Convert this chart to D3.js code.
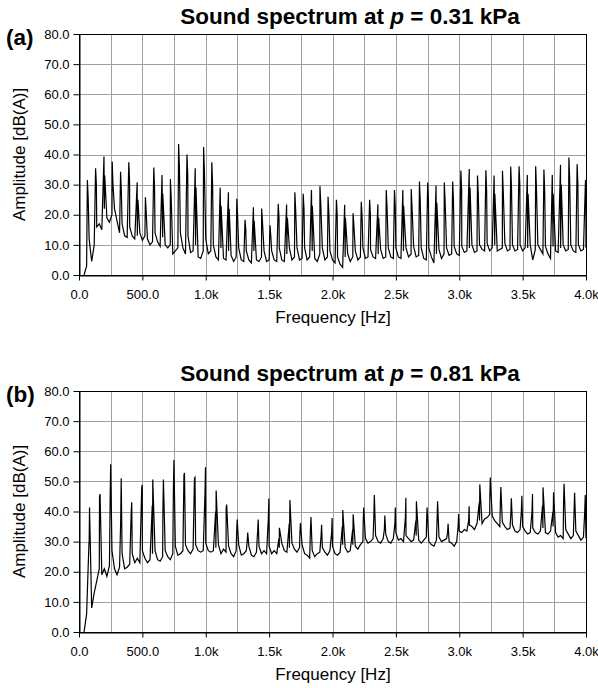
<!DOCTYPE html>
<html>
<head>
<meta charset="utf-8">
<script src="https://cdn.jsdelivr.net/npm/d3@7"></script>
<style>
    body { margin: 0; background: #fff; }
    text { font-family: "Liberation Sans", Arial, sans-serif; fill: #000; }
</style>
</head>
<body>
<div id="chart"></div>
<script>
// axis ticks
const xTickValues = [0, 500, 1000, 1500, 2000, 2500, 3000, 3500, 4000];
const xTickLabels = ['0.0', '500.0', '1.0k', '1.5k', '2.0k', '2.5k', '3.0k', '3.5k', '4.0k'];
const xGridValues = [0, 250, 500, 750, 1000, 1250, 1500, 1750, 2000, 2250, 2500, 2750, 3000, 3250, 3500, 3750, 4000];
const yTickValues = [0, 10, 20, 30, 40, 50, 60, 70, 80];
const yTickLabels = ['0.0', '10.0', '20.0', '30.0', '40.0', '50.0', '60.0', '70.0', '80.0'];

const panelLabels = ['(a)', '(b)'];
const pressures = ['0.31', '0.81'];

// harmonic peaks, panel (a)
const peakHzA = [66, 131, 197, 262, 328, 393, 459, 524, 590, 655, 721, 786, 852, 917, 983, 1048, 1114, 1179, 1245, 1310,
    1376, 1441, 1507, 1572, 1638, 1703, 1769, 1834, 1901, 1965, 2031, 2096, 2162, 2227, 2293, 2358, 2424, 2489, 2555, 2621,
    2686, 2751, 2817, 2882, 2948, 3013, 3079, 3144, 3210, 3275, 3341, 3406, 3472, 3537, 3603, 3668, 3734, 3799, 3865, 3930, 3996];
const peakDbA = [31.5, 35.4, 39.3, 37.7, 34.3, 37.4, 30.8, 25.8, 35.7, 33.2,
    31.9, 43.5, 40.0, 35.4, 42.5, 37.4, 29.0, 27.5, 25.3, 18.3,
    22.5, 22.1, 16.5, 23.6, 23.4, 27.5, 27.0, 28.2, 29.5, 26.0,
    25.0, 23.3, 20.5, 24.3, 25.0, 23.5, 28.2, 28.2, 28.2, 28.5,
    31.0, 30.7, 29.7, 30.7, 31.0, 34.7, 35.2, 33.0, 34.8, 33.0,
    34.6, 36.0, 36.1, 33.2, 36.1, 35.0, 33.2, 36.6, 39.0, 36.8, 31.5];
// second line just above each peak
const sideHzA = [72, 137, 203, 268, 334, 399, 465, 530, 596, 661, 727, 792, 858, 923, 989, 1054, 1121, 1185, 1251, 1316,
    1382, 1447, 1513, 1578, 1644, 1709, 1775, 1841, 1907, 1971, 2037, 2102, 2168, 2233, 2299, 2364, 2430, 2495, 2561, 2627,
    2692, 2757, 2823, 2888, 2954, 3019, 3085, 3150, 3216, 3281, 3347, 3412, 3478, 3543, 3609, 3674, 3741, 3805, 3871, 3936, 3999];
const sideDbA = [26, 30, 33, 30, 28, 31, 25, 21, 29, 27,
    26, 36, 33, 29, 35, 30, 23, 22, 20, 15,
    18, 18, 13, 19, 19, 22, 22, 23, 24, 21,
    20, 19, 17, 20, 20, 19, 23, 23, 23, 23,
    25, 25, 24, 25, 25, 28, 29, 27, 28, 27,
    28, 29, 30, 27, 29, 28, 27, 30, 32, 30, 26];

// noise floor, panel (a): 40 Hz to 4000 Hz, one reading every 20 Hz
const floorDbA = [
    0, 3, 12, 4.5, 10, 16, 17, 15, 22, 19, 17.5, 20, 22, 18, 14, 17, 13, 12.5, 16, 13, 12, 13, 14, 11.5, 13,
    12, 10, 11, 14, 11, 9.5, 12.5, 10, 9, 10, 7, 8, 9, 14, 9, 7, 13, 7.5, 8, 10, 6, 5.5, 8, 12, 7,
    8, 10, 6, 5, 9, 5.5, 5, 8, 6.5, 4.5, 6, 9, 5, 4.5, 8, 5, 4, 8, 5, 4.5, 6, 8, 4.5, 5, 8,
    5, 4.5, 9, 5, 4.5, 7, 9, 5, 6, 9, 5, 5.5, 9, 5, 6, 8, 5.5, 4.5, 7, 9, 5, 6, 8, 5, 4,
    6, 3.5, 2.5, 6, 7, 4.5, 6, 8, 5, 6, 9, 5.5, 6, 8.5, 6, 5.5, 7, 8.5, 5.5, 6, 9, 6, 5.5, 9, 6,
    5.5, 8, 9, 6, 7, 9.5, 6, 6.5, 9, 5.5, 5, 9, 6, 4, 7, 8.5, 5.5, 7, 9, 6.5, 7, 9.5, 7, 6.5, 9.5,
    7.5, 8, 9, 10, 7.5, 8, 10, 8.5, 8, 10.5, 8, 9, 10, 8, 8.5, 9, 10.5, 8, 8.5, 10, 8, 8.5, 10, 8, 9,
    9, 10, 5, 8.5, 10, 8.5, 7, 9.5, 7, 5.5, 9.5, 8, 7.5, 9, 10, 8, 8.5, 10, 8, 7.5, 10, 8, 8.5, 9
];

// harmonic peaks, panel (b)
const peakHzB = [83, 166, 250, 333, 416, 499, 582, 666, 749, 832, 915, 998, 1082, 1165, 1248, 1331, 1414, 1498, 1581, 1664,
    1747, 1830, 1914, 1997, 2081, 2163, 2246, 2330, 2413, 2496, 2579, 2662, 2746, 2829, 2912, 2995, 3078, 3162, 3245, 3328,
    3411, 3494, 3578, 3661, 3744, 3827, 3910, 3994];
const peakDbB = [41.3, 45.8, 55.7, 51.0, 43.1, 48.8, 50.6, 50.6, 57.1, 52.8,
    51.3, 54.7, 47.0, 42.3, 37.3, 33.0, 37.3, 44.3, 34.6, 43.8,
    36.2, 38.2, 35.6, 37.8, 40.5, 39.1, 41.3, 45.5, 38.7, 41.3,
    44.6, 43.4, 41.3, 43.4, 35.9, 39.2, 41.7, 49.0, 51.3, 48.1,
    44.4, 45.2, 45.8, 48.0, 46.4, 49.2, 46.2, 45.5];
// second line just below each peak
const sideHzB = [79, 162, 246, 329, 412, 495, 578, 662, 745, 828, 911, 994, 1078, 1161, 1244, 1327, 1410, 1494, 1577, 1659,
    1743, 1826, 1910, 1993, 2077, 2159, 2242, 2326, 2409, 2492, 2575, 2658, 2742, 2825, 2908, 2991, 3074, 3158, 3241, 3324,
    3407, 3490, 3574, 3657, 3739, 3823, 3906, 3990];
const sideDbB = [30, 45, 45, 37, 40, 48, 42, 40, 48, 52,
    51, 46, 40, 41, 33, 30, 34, 38, 31, 36,
    33, 34, 32, 33, 35, 34, 36, 38, 34, 36,
    38, 37, 36, 37, 33, 35, 37, 43, 44, 42,
    39, 40, 40, 42, 40, 43, 40, 40];

// noise floor, panel (b): 40 Hz to 4000 Hz, one reading every 20 Hz
const floorDbB = [
    0, 6, 29, 8, 13, 17, 21, 19, 21, 18.5, 22, 27, 21, 19, 21.5, 26, 21, 21.5, 22.5, 26, 23, 24.5, 23, 27, 24.5,
    23, 24, 26, 27, 24, 23.5, 25, 27, 25, 24, 26, 28.5, 25.5, 26, 27, 29, 27, 26, 27.5, 29, 27, 26.5, 27, 29.5, 27,
    26.5, 27, 28, 29, 26, 27.5, 26.5, 28.5, 26, 25, 27, 29, 25.5, 26, 27, 28.5, 25.5, 25, 26.5, 28.5, 26, 27, 26, 28.5, 26,
    27, 26, 28, 29.5, 27, 26.5, 28, 29.5, 27.5, 26.5, 28, 29, 26, 25.5, 24.5, 27, 25, 26, 26.5, 28, 26.5, 25.5, 27, 28.5, 26,
    25.5, 26.5, 29, 28, 26.5, 27, 29, 28.5, 27.5, 29, 30, 31, 29.5, 30, 31, 32, 30, 29.5, 31, 32.5, 30, 29.5, 31, 33, 30.5,
    31, 30, 32, 31, 30, 30.5, 32, 30.5, 29.5, 30.5, 31.5, 30, 29, 28.5, 30.5, 31.5, 30, 30.5, 31, 30, 29.5, 28.5, 30, 33.5, 33,
    34, 33.5, 35.5, 35, 34, 36, 37, 36, 37.5, 38, 39, 38.5, 37, 36, 35, 36.5, 35, 34, 34.5, 35.5, 33.5, 33, 34, 35, 33.5,
    32.5, 33, 34.5, 33, 32.5, 33.5, 34.5, 33, 32.5, 33.5, 35, 33, 31.5, 32, 31, 34, 32.5, 31, 32, 33.5, 32, 30.5, 31.5, 31
];
const floorStartHz = 40;
const floorStepHz = 20;

const panels = [
    { label: panelLabels[0], pressure: pressures[0], peakHz: peakHzA, peakDb: peakDbA, sideHz: sideHzA, sideDb: sideDbA, floorDb: floorDbA },
    { label: panelLabels[1], pressure: pressures[1], peakHz: peakHzB, peakDb: peakDbB, sideHz: sideHzB, sideDb: sideDbB, floorDb: floorDbB }
];

const width = 598, height = 688;
const plotLeft = 79, plotRight = 586, plotHeight = 241;
const panelTops = [34, 391];

const svg = d3.select('#chart').append('svg')
    .attr('width', width)
    .attr('height', height);

const x = d3.scaleLinear().domain([0, 4000]).range([plotLeft, plotRight]);

function spectrumPoints(p) {
    var pts = p.floorDb.map(function(v, i) { return { hz: floorStartHz + i * floorStepHz, db: v }; });
    p.peakHz.forEach(function(hz, i) { pts.push({ hz: hz, db: p.peakDb[i] }); });
    p.sideHz.forEach(function(hz, i) { pts.push({ hz: hz, db: p.sideDb[i] }); });
    pts.sort(function(a, b) { return a.hz - b.hz; });
    return pts;
}

panels.forEach(function(p, k) {
    var top = panelTops[k];
    var bottom = top + plotHeight;
    var y = d3.scaleLinear().domain([0, 80]).range([bottom, top]);
    var g = svg.append('g');

    // grid
    g.append('g').selectAll('line')
        .data(xGridValues)
        .enter().append('line')
        .attr('x1', function(d) { return Math.round(x(d)) + 0.5; })
        .attr('x2', function(d) { return Math.round(x(d)) + 0.5; })
        .attr('y1', top)
        .attr('y2', bottom)
        .attr('stroke', '#a0a0a0');

    g.append('g').selectAll('line')
        .data(yTickValues)
        .enter().append('line')
        .attr('x1', plotLeft)
        .attr('x2', plotRight)
        .attr('y1', function(d) { return Math.round(y(d)) + 0.5; })
        .attr('y2', function(d) { return Math.round(y(d)) + 0.5; })
        .attr('stroke', '#a0a0a0');

    // spectrum line
    var clipId = 'clip' + k;
    svg.append('clipPath').attr('id', clipId)
        .append('rect')
        .attr('x', plotLeft).attr('y', top)
        .attr('width', plotRight - plotLeft).attr('height', plotHeight);

    var line = d3.line()
        .x(function(d) { return x(d.hz); })
        .y(function(d) { return y(d.db); });

    g.append('path')
        .datum(spectrumPoints(p))
        .attr('clip-path', 'url(#' + clipId + ')')
        .attr('d', line)
        .attr('fill', 'none')
        .attr('stroke', '#000')
        .attr('stroke-width', 1.2)
        .attr('stroke-linejoin', 'miter');

    // frame
    g.append('rect')
        .attr('x', plotLeft + 0.5).attr('y', top + 0.5)
        .attr('width', plotRight - plotLeft).attr('height', plotHeight)
        .attr('fill', 'none')
        .attr('stroke', '#000');

    // axes
    var yAxis = d3.axisLeft(y)
        .tickValues(yTickValues)
        .tickFormat(function(d, i) { return yTickLabels[i]; })
        .tickSize(6)
        .tickSizeOuter(0)
        .tickPadding(4);
    var ya = g.append('g').attr('transform', 'translate(' + (plotLeft + 0.5) + ',0)').call(yAxis);

    var xAxis = d3.axisBottom(x)
        .tickValues(xTickValues)
        .tickFormat(function(d, i) { return xTickLabels[i]; })
        .tickSize(5)
        .tickSizeOuter(0)
        .tickPadding(9);
    var xa = g.append('g').attr('transform', 'translate(0,' + (bottom + 0.5) + ')').call(xAxis);

    [ya, xa].forEach(function(a) {
        a.selectAll('text')
            .style('font-family', '"Liberation Sans", Arial, sans-serif')
            .style('font-size', '13px')
            .attr('fill', '#000');
        a.selectAll('line').attr('stroke', '#000');
        a.select('.domain').attr('stroke', '#000');
    });

    // title
    var title = g.append('text')
        .attr('x', 350)
        .attr('y', top - 10)
        .attr('text-anchor', 'middle')
        .style('font-size', '22.5px')
        .style('font-weight', 'bold');
    title.append('tspan').text('Sound spectrum at ');
    title.append('tspan').style('font-style', 'italic').text('p');
    title.append('tspan').text(' = ' + p.pressure + ' kPa');

    g.append('text')
        .attr('x', 6)
        .attr('y', top + 11)
        .style('font-size', '22.5px')
        .style('font-weight', 'bold')
        .text(p.label);

    g.append('text')
        .attr('transform', 'translate(25,' + (top + plotHeight / 2) + ') rotate(-90)')
        .attr('text-anchor', 'middle')
        .style('font-size', '17px')
        .text('Amplitude [dB(A)]');

    g.append('text')
        .attr('x', 333)
        .attr('y', bottom + 48)
        .attr('text-anchor', 'middle')
        .style('font-size', '17px')
        .text('Frequency [Hz]');
});
</script>
</body>
</html>
